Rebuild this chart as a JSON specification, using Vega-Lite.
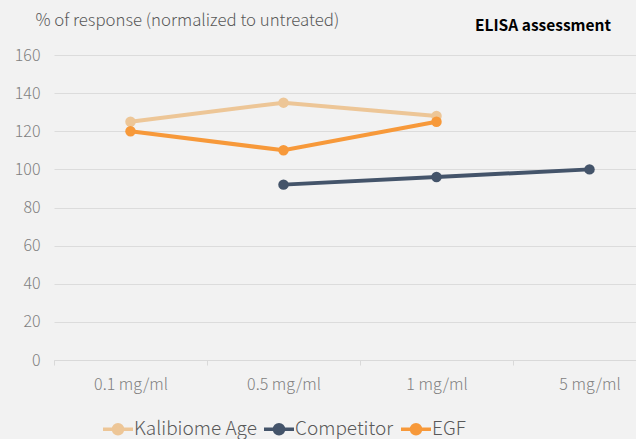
{
  "$schema": "https://vega.github.io/schema/vega-lite/v6.json",
  "width": 582,
  "height": 305,
  "autosize": {"type": "none"},
  "padding": {"left": 54, "top": 55, "right": 0, "bottom": 79},
  "background": "#F2F2F2",
  "title": {
    "text": "ELISA assessment",
    "anchor": "start",
    "frame": "group",
    "dx": 421,
    "offset": 0,
    "dy": 22,
    "font": "Noto Sans CJK JP",
    "fontSize": 15.5,
    "fontWeight": "bold",
    "color": "#000000"
  },
  "config": {
    "view": {"stroke": null},
    "font": "Noto Sans CJK JP"
  },
  "data": {
    "values": [
      {"dose": "0.1 mg/ml", "series": "Kalibiome Age", "value": 125},
      {"dose": "0.5 mg/ml", "series": "Kalibiome Age", "value": 135},
      {"dose": "1 mg/ml", "series": "Kalibiome Age", "value": 128},
      {"dose": "0.5 mg/ml", "series": "Competitor", "value": 92},
      {"dose": "1 mg/ml", "series": "Competitor", "value": 96},
      {"dose": "5 mg/ml", "series": "Competitor", "value": 100},
      {"dose": "0.1 mg/ml", "series": "EGF", "value": 120},
      {"dose": "0.5 mg/ml", "series": "EGF", "value": 110},
      {"dose": "1 mg/ml", "series": "EGF", "value": 125}
    ]
  },
  "encoding": {
    "x": {
      "field": "dose",
      "type": "ordinal",
      "sort": ["0.1 mg/ml", "0.5 mg/ml", "1 mg/ml", "5 mg/ml"],
      "scale": {"type": "band", "range": [0, 612], "paddingInner": 0, "paddingOuter": 0},
      "axis": {
        "title": null,
        "labelAngle": 0,
        "labelFontSize": 16,
        "labelColor": "#7F7F7F",
        "labelPadding": 11,
        "labelFontWeight": 300,
        "domainColor": "#D9D9D9",
        "tickColor": "#D9D9D9",
        "tickBand": "extent",
        "tickSize": 5,
        "grid": false
      }
    },
    "y": {
      "field": "value",
      "type": "quantitative",
      "scale": {"domain": [0, 160]},
      "axis": {
        "values": [0, 20, 40, 60, 80, 100, 120, 140, 160],
        "title": "% of response (normalized to untreated)",
        "titleAngle": 0,
        "titleAlign": "left",
        "titleBaseline": "middle",
        "titleX": -19,
        "titleY": -35,
        "titleFontSize": 16.8,
        "titleFontWeight": 300,
        "titleColor": "#595959",
        "labelFontSize": 16,
        "labelFontWeight": 300,
        "labelColor": "#7F7F7F",
        "labelPadding": 14,
        "ticks": false,
        "domain": false,
        "gridColor": "#DCDCDC",
        "gridWidth": 1
      }
    },
    "color": {
      "field": "series",
      "type": "nominal",
      "sort": ["Kalibiome Age", "Competitor", "EGF"],
      "scale": {
        "domain": ["Kalibiome Age", "Competitor", "EGF"],
        "range": ["#EDC697", "#44546A", "#F7993A"]
      },
      "legend": {
        "title": null,
        "orient": "none",
        "direction": "horizontal",
        "legendX": 52,
        "legendY": 362,
        "labelFontSize": 19,
        "labelFontWeight": 300,
        "labelColor": "#595959",
        "labelOffset": 4,
        "columnPadding": 0,
        "symbolType": "M-1.5,0L1.5,0M0.45,0A0.45,0.45,0,1,1,-0.45,0A0.45,0.45,0,1,1,0.45,0Z",
        "symbolSize": 400,
        "symbolStrokeWidth": 3.5,
        "encode": {
          "symbols": {
            "update": {
              "fill": {"scale": "color", "field": "value"},
              "stroke": {"scale": "color", "field": "value"},
              "opacity": {"value": 1}
            }
          }
        }
      }
    }
  },
  "layer": [
    {"mark": {"type": "line", "strokeWidth": 4}},
    {"mark": {"type": "point", "filled": true, "size": 110, "opacity": 1}}
  ]
}
